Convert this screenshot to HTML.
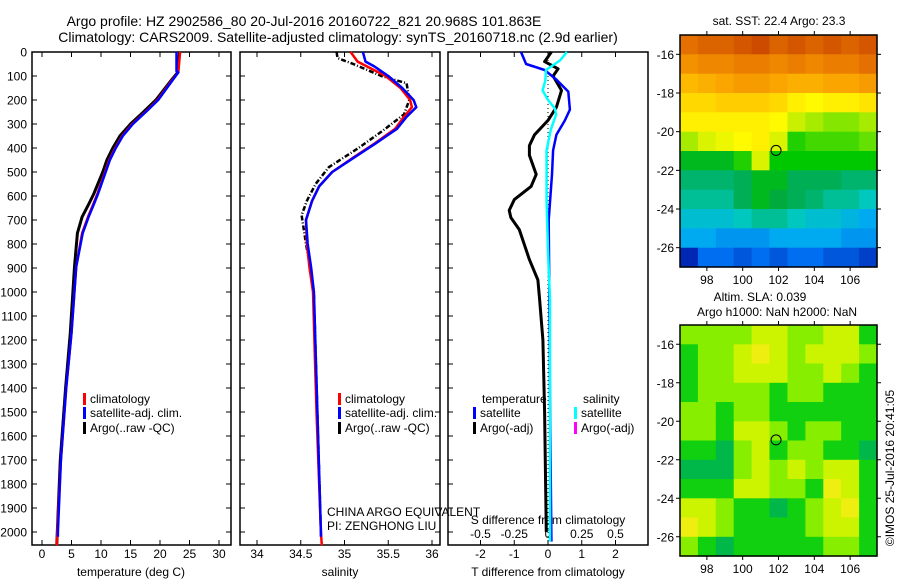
<!DOCTYPE html>
<html><head><meta charset="utf-8"><style>
html,body{margin:0;padding:0;background:#fff}
svg{display:block;font-family:"Liberation Sans",sans-serif}
</style></head><body>
<svg id="chart" width="900" height="580" viewBox="0 0 900 580" xmlns="http://www.w3.org/2000/svg">
<text x="304" y="26" font-size="14" text-anchor="middle">Argo profile: HZ 2902586_80 20-Jul-2016 20160722_821 20.968S 101.863E</text>
<text x="338" y="42" font-size="14" text-anchor="middle">Climatology: CARS2009. Satellite-adjusted climatology: synTS_20160718.nc (2.9d earlier)</text>
<g id="g"></g>
</svg>
<script>
// ---------- data ----------
const depthTicks=[0,100,200,300,400,500,600,700,800,900,1000,1100,1200,1300,1400,1500,1600,1700,1800,1900,2000];
const tTicks=[0,5,10,15,20,25,30];
const sTicks=[34,34.5,35,35.5,36];
const dtTicks=[-2,-1,0,1,2];
const dsTicks=[-0.5,-0.25,0,0.25,0.5];
const dsTickLabels=["-0.5","-0.25","0","0.25","0.5"];
// temperature profiles [depth, value]
const tArgo=[[0,23.3],[85,23.0],[115,22.0],[200,19.3],[250,17.2],[300,15.0],[350,13.2],[400,12.0],[450,11.0],[500,10.3],[590,8.8],[640,7.8],[687,6.8],[755,6.0],[895,5.5],[1170,4.8],[1400,4.0],[1700,3.1],[2000,2.6],[2050,2.5]];
const tClim=[[0,23.4],[85,23.1],[115,22.1],[200,19.6],[250,17.5],[300,15.3],[350,13.6],[400,12.4],[450,11.4],[500,10.7],[590,9.4],[640,8.6],[687,7.8],[755,6.8],[895,5.8],[1170,5.0],[1400,4.1],[1700,3.2],[2000,2.6],[2055,2.5]];
const tSat=[[0,22.8],[80,22.8],[85,23.1],[115,22.2],[200,19.7],[250,17.6],[300,15.4],[350,13.7],[400,12.5],[450,11.5],[500,10.8],[590,9.5],[640,8.7],[687,7.9],[755,6.9],[895,5.8],[1170,5.0],[1400,4.1],[1700,3.2],[2000,2.7],[2020,2.7]];
// salinity profiles
const sArgo=[[0,34.91],[25,34.92],[50,35.1],[100,35.42],[130,35.71],[200,35.74],[260,35.68],[330,35.43],[400,35.16],[480,34.82],[550,34.67],[620,34.57],[680,34.51],[750,34.54],[800,34.56],[900,34.61],[1000,34.65],[1500,34.69],[2000,34.73]];
const sClim=[[0,35.07],[40,35.15],[100,35.47],[150,35.64],[200,35.75],[230,35.77],[270,35.68],[320,35.58],[380,35.35],[440,35.1],[500,34.86],[560,34.71],[620,34.63],[700,34.56],[800,34.57],[900,34.6],[1000,34.64],[1500,34.68],[2000,34.73],[2055,34.74]];
const sSat=[[0,35.21],[40,35.24],[60,35.34],[100,35.5],[150,35.66],[200,35.79],[230,35.82],[270,35.71],[320,35.6],[380,35.36],[440,35.11],[500,34.86],[560,34.71],[620,34.63],[700,34.56],[800,34.58],[900,34.62],[1000,34.65],[1500,34.69],[2000,34.73],[2020,34.73]];
// differences from climatology
const dtArgo=[[0,0.1],[40,-0.1],[70,0.3],[100,0.15],[160,0.4],[230,0.25],[285,0],[345,-0.4],[390,-0.55],[430,-0.55],[510,-0.35],[560,-0.5],[615,-1.0],[660,-1.15],[690,-1.1],[740,-0.85],[865,-0.55],[950,-0.3],[1030,-0.25],[1200,-0.15],[1500,-0.1],[2000,-0.05]];
const dtSat=[[0,-0.8],[50,-0.65],[75,-0.1],[115,0.25],[165,0.6],[240,0.65],[285,0.5],[345,0.25],[410,0.15],[510,0.12],[700,0.02],[1035,0.04],[1450,0.06],[2040,0.1]];
const dsSat=[[0,0.14],[35,0.09],[75,-0.015],[120,-0.02],[160,-0.04],[200,0],[235,0.05],[260,0.06],[325,0.02],[410,-0.01],[620,-0.01],[830,0.0],[1035,0.015],[2040,0.015]];
// SST map (rows -15..-27 by 1deg, cols 96.5..107.5)
const sstLats=[-15,-16,-17,-18,-19,-20,-21,-22,-23,-24,-25,-26];
const sstLons=[96.5,97.5,98.5,99.5,100.5,101.5,102.5,103.5,104.5,105.5,106.5];
const sstVals=[
[24.6,24.7,24.7,24.8,24.9,24.7,24.8,24.7,24.8,24.7,24.8],
[24.3,24.4,24.4,24.5,24.5,24.4,24.5,24.4,24.5,24.5,24.6],
[23.9,24.0,24.1,24.2,24.2,24.1,24.0,24.0,24.1,24.1,24.2],
[23.6,23.6,23.7,23.7,23.7,23.6,23.4,23.3,23.4,23.4,23.5],
[23.4,23.4,23.4,23.4,23.4,23.3,23.0,22.9,22.8,22.8,22.9],
[22.9,23.1,23.2,23.3,23.4,23.1,22.5,22.6,22.6,22.6,22.7],
[22.3,22.3,22.3,22.5,23.1,22.4,22.4,22.4,22.4,22.4,22.4],
[22.0,22.0,22.0,22.1,22.3,22.3,22.1,22.1,22.1,22.0,22.0],
[21.9,21.9,21.9,22.1,22.3,22.2,22.1,22.0,21.9,21.9,21.8],
[21.7,21.7,21.7,21.8,21.9,21.9,21.8,21.7,21.7,21.6,21.5],
[21.5,21.5,21.4,21.4,21.4,21.5,21.5,21.5,21.5,21.4,21.4],
[20.9,21.2,21.2,21.1,21.2,21.1,21.2,21.2,21.1,21.1,21.0]];
const slaVals=[
[2,2,2,2,3,3,2,2,3,3,1],
[1,2,2,3,4,3,2,3,3,3,2],
[1,2,2,3,3,3,2,2,3,2,1],
[1,2,2,2,2,1,2,2,1,1,1],
[2,2,1,2,2,1,1,1,1,1,1],
[2,2,1,3,3,2,1,2,2,1,1],
[1,1,0,2,3,1,2,2,1,1,0],
[0,0,0,2,3,2,3,2,3,3,1],
[1,1,1,3,3,2,2,1,4,3,1],
[3,3,2,1,1,0,1,2,3,4,1],
[4,3,2,1,1,1,1,2,3,3,1],
[2,1,0,1,1,1,1,1,2,2,1]];
const lonTicks=[98,100,102,104,106];
const latTicks=[-16,-18,-20,-22,-24,-26];
const argoPos=[101.863,-20.968];

// ---------- helpers ----------
const NS="http://www.w3.org/2000/svg";
const G=document.getElementById('g');
function mk(tag,attrs,parent){const e=document.createElementNS(NS,tag);for(const k in attrs)e.setAttribute(k,attrs[k]);(parent||G).appendChild(e);return e;}
const TOP=52,BOT=545;
const yD=d=>TOP+d*0.24;
const xT=v=>42+v*5.9;
const xS=v=>257+(v-34)*87.5;
const xDT=v=>548+v*33.75;
const xDS=v=>548+v*135;
const panels=[{x0:32,x1:231,name:'temperature-panel'},{x0:240,x1:440,name:'salinity-panel'},{x0:448,x1:648,name:'difference-panel'}];

panels.forEach((p,i)=>{
  const r=mk('rect',{x:p.x0,y:TOP,width:p.x1-p.x0,height:BOT-TOP,fill:'none',stroke:'#000','stroke-width':1.5});
  
  
});
depthTicks.forEach(d=>{
  const t=mk('text',{x:27,y:yD(d)+4.5,'font-size':12,'text-anchor':'end'});
  t.textContent=d;
  
  
  panels.slice(0,2).forEach(p=>{
    mk('line',{x1:p.x0,x2:p.x0+5,y1:yD(d),y2:yD(d),stroke:'#000'});
    mk('line',{x1:p.x1-5,x2:p.x1,y1:yD(d),y2:yD(d),stroke:'#000'});
  });
  mk('line',{x1:448,x2:453,y1:yD(d),y2:yD(d),stroke:'#000'});
});
function xAxis(ticks,labels,fx,y,top){
  ticks.forEach((v,i)=>{
    const x=fx(v);
    if(top){mk('line',{x1:x,x2:x,y1:TOP,y2:TOP+5,stroke:'#000'});mk('line',{x1:x,x2:x,y1:BOT-5,y2:BOT,stroke:'#000'});}
    const t=mk('text',{x:x,y:y,'font-size':12,'text-anchor':'middle'});
    t.textContent=labels[i];
    
    
  });
}
xAxis(tTicks,tTicks.map(String),xT,558,true);
xAxis(sTicks,sTicks.map(String),xS,558,true);
xAxis(dtTicks,dtTicks.map(String),xDT,558,true);
xAxis(dsTicks,dsTickLabels,xDS,538,false);
[['temperature (deg C)',131,'temperature-axis-title'],['salinity',340,'salinity-axis-title'],['T difference from climatology',548,'t-diff-axis-title']].forEach(a=>{
  const t=mk('text',{x:a[1],y:576,'font-size':12,'text-anchor':'middle'});t.textContent=a[0];
  
  
});
{const t=mk('text',{x:548,y:524,'font-size':12,'text-anchor':'middle'});t.textContent='S difference from climatology';

}

function line(data,fx,color,name,w,dash){
  const pts=data.map(p=>fx(p[1]).toFixed(1)+','+yD(p[0]).toFixed(1)).join(' ');
  const a={points:pts,fill:'none',stroke:color,'stroke-width':w||2.5,'stroke-linejoin':'round'};
  if(dash)a['stroke-dasharray']=dash;
  const e=mk('polyline',a);
  
  
}
{const z=mk('line',{x1:548,x2:548,y1:TOP,y2:BOT,stroke:'#000','stroke-dasharray':'1,3'});

}
line(tArgo,xT,'#000','temp-argo-line',3);
line(tClim,xT,'#f00','temp-climatology-line');
line(tSat,xT,'#00f','temp-satellite-line');
line(sArgo,xS,'#000','sal-argo-line',2.5,'5,2,1,2');
line(sClim,xS,'#f00','sal-climatology-line');
line(sSat,xS,'#00f','sal-satellite-line');
line(dtArgo,xDT,'#000','tdiff-argo-line',3);
line(dtSat,xDT,'#00f','tdiff-satellite-line');
line(dsSat,xDS,'#0ff','sdiff-satellite-line');

function legend(x,y,color,label,name){
  mk('rect',{x:x,y:y-9,width:3,height:12,fill:color});
  const t=mk('text',{x:x+7,y:y+1,'font-size':12});t.textContent=label;
  
  
}
legend(83,402,'#f00','climatology','legend-climatology');
legend(83,416,'#00f','satellite-adj. clim.','legend-satellite');
legend(83,431,'#000','Argo(..raw -QC)','legend-argo');
legend(338,402,'#f00','climatology','legend-climatology-2');
legend(338,416,'#00f','satellite-adj. clim.','legend-satellite-2');
legend(338,431,'#000','Argo(..raw -QC)','legend-argo-2');
{const t=mk('text',{x:482,y:403,'font-size':12});t.textContent='temperature';}
{const t=mk('text',{x:583,y:403,'font-size':12});t.textContent='salinity';}
legend(473,416,'#00f','satellite','legend-t-satellite');
legend(473,431,'#000','Argo(-adj)','legend-t-argo');
legend(574,416,'#0ff','satellite','legend-s-satellite');
legend(574,431,'#f0f','Argo(-adj)','legend-s-argo');
{const t=mk('text',{x:327,y:516,'font-size':12});t.textContent='CHINA ARGO EQUIVALENT';}
{const t=mk('text',{x:327,y:530,'font-size':12});t.textContent='PI: ZENGHONG LIU';}

// ---------- maps ----------
function sstColor(v){
  const st=[[20.9,[0,40,180]],[21.2,[0,110,240]],[21.5,[0,170,240]],[21.8,[0,200,190]],[22.0,[0,180,110]],[22.2,[0,170,60]],[22.4,[0,200,0]],[22.7,[100,225,0]],[23.0,[200,240,0]],[23.3,[255,250,0]],[23.7,[255,205,0]],[24.1,[250,165,0]],[24.5,[235,125,0]],[24.9,[205,75,0]]];
  if(v<=st[0][0])return 'rgb('+st[0][1]+')';
  for(let i=1;i<st.length;i++){if(v<=st[i][0]){const f=(v-st[i-1][0])/(st[i][0]-st[i-1][0]);const c=st[i-1][1].map((a,k)=>Math.round(a+(st[i][1][k]-a)*f));return 'rgb('+c+')';}}
  return 'rgb('+st[st.length-1][1]+')';
}
const slaCols=['#00b84a','#10d010','#88ee00','#ccf400','#eeee10'];
function drawMap(top,bot,vals,colorFn,name){
  const x0=680,x1=877;
  const fx=lon=>x0+(lon-96.5)*(x1-x0)/11;
  const fy=lat=>top+(-15-lat)*(bot-top)/12;
  vals.forEach((row,r)=>row.forEach((v,c)=>{
    const lon=sstLons[c],lat=sstLats[r];
    const e=mk('rect',{x:fx(lon).toFixed(1),y:fy(lat).toFixed(1),width:((x1-x0)/11+0.6).toFixed(1),height:((bot-top)/12+0.6).toFixed(1),fill:colorFn(v)});
    
    
  }));
  const fr=mk('rect',{x:x0,y:top,width:x1-x0,height:bot-top,fill:'none',stroke:'#000','stroke-width':1.5});
  
  
  lonTicks.forEach(l=>{
    mk('line',{x1:fx(l),x2:fx(l),y1:top-4,y2:top,stroke:'#000'});
    mk('line',{x1:fx(l),x2:fx(l),y1:bot,y2:bot+4,stroke:'#000'});
    const t=mk('text',{x:fx(l),y:bot+17,'font-size':12,'text-anchor':'middle'});t.textContent=l;
    
    
  });
  latTicks.forEach(l=>{
    mk('line',{x1:x0-4,x2:x0,y1:fy(l),y2:fy(l),stroke:'#000'});
    mk('line',{x1:x1,x2:x1+4,y1:fy(l),y2:fy(l),stroke:'#000'});
    const t=mk('text',{x:x0-6,y:fy(l)+4.5,'font-size':12,'text-anchor':'end'});t.textContent=l;
    
    
  });
  const c=mk('circle',{cx:fx(argoPos[0]),cy:fy(argoPos[1]),r:5,fill:'none',stroke:'#000'});
  
  
}
drawMap(35,267,sstVals,sstColor,'sst-map');
drawMap(325,556,slaVals,v=>slaCols[v],'sla-map');
{const t=mk('text',{x:779,y:25,'font-size':12,'text-anchor':'middle'});t.textContent='sat. SST: 22.4  Argo: 23.3';}
{const t=mk('text',{x:760,y:301,'font-size':12,'text-anchor':'middle'});t.textContent='Altim. SLA: 0.039';}
{const t=mk('text',{x:777,y:316,'font-size':12,'text-anchor':'middle'});t.textContent='Argo h1000: NaN h2000: NaN';}
{const t=mk('text',{x:0,y:0,'font-size':12,'text-anchor':'middle',transform:'translate(894,468) rotate(-90)'});t.textContent='©IMOS 25-Jul-2016 20:41:05';}
</script>
</body></html>
